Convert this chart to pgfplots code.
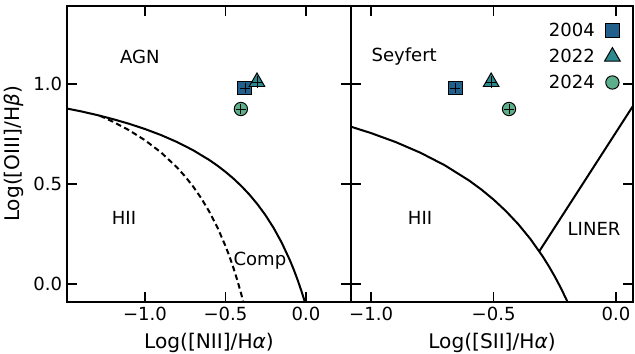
\documentclass[border=0pt]{standalone}
\usepackage{fontspec}
\setmainfont{DejaVu Sans}
\usepackage{pgfplots}
\pgfplotsset{compat=1.18}
\definecolor{c04}{HTML}{21608C}
\definecolor{c22}{HTML}{2A8A8E}
\definecolor{c24}{HTML}{5DAF8C}
\pgfplotsset{bpt/.style={
  scale only axis, height=213.12pt, anchor=south west,
  tick align=inside, xtick pos=both, ytick pos=both,
  major tick length=7.5pt,
  every tick/.style={black, line width=1pt},
  axis line style={line width=1.1pt},
  ymin=-0.09, ymax=1.39, ytick={0,0.5,1},
  xtick={-1,-0.5,0}, xticklabels={−1.0,−0.5,0.0},
  tick label style={font=\fontsize{13}{15}\selectfont},
  label style={font=\fontsize{14.5}{17}\selectfont},
  xlabel style={yshift=-2.5pt},
  every axis plot/.append style={line width=1.45pt},
  unbounded coords=jump,
  clip marker paths=true,
},
errb/.style={black, no marks, line width=0.55pt, solid, forget plot},
ptsq/.style={only marks, mark=square*, mark size=5pt, mark options={fill=c04, draw=black, line width=0.7pt, solid}},
pttr/.style={only marks, mark=triangle*, mark size=6.5pt, mark options={fill=c22, draw=black, line width=0.7pt, solid}},
ptci/.style={only marks, mark=*, mark size=4.8pt, mark options={fill=c24, draw=black, line width=0.7pt, solid}},
}
\begin{document}
\begin{tikzpicture}
\useasboundingbox (0,0) rectangle (457.2pt,254.16pt);
% ---------------- left panel: [NII]
\begin{axis}[bpt, at={(48.24pt,36.72pt)}, width=204.48pt,
  xmin=-1.484, xmax=0.28,
  yticklabels={0.0,0.5,1.0},
  xlabel={Log([NII]/H\textit{α})},
  ylabel={Log([OIII]/H\textit{β})}]
% Kewley 2001
\addplot[black, no marks] coordinates {
(-1.484,0.8772)(-1.4,0.8638)(-1.3,0.8454)(-1.2,0.8247)(-1.1,0.8015)(-1.0,0.7750)
(-0.9,0.7447)(-0.8,0.7097)(-0.7,0.6686)(-0.6,0.6199)(-0.55,0.5920)(-0.5,0.5611)
(-0.45,0.5270)(-0.4,0.4889)(-0.35,0.4461)(-0.3,0.3978)(-0.25,0.3428)(-0.2,0.2796)
(-0.15,0.2061)(-0.1,0.1198)(-0.075,0.0707)(-0.05,0.0169)(-0.025,-0.0423)(-0.0066,-0.0899)};
% Kauffmann 2003
\addplot[black, no marks, dash pattern=on 4pt off 2.5pt] coordinates {
(-1.28,0.8414)(-1.2,0.812)(-1.1,0.7696)(-1.0,0.7190)(-0.9,0.6579)(-0.8,0.5824)
(-0.75,0.5375)(-0.7,0.4867)(-0.65,0.4286)(-0.6,0.3615)(-0.55,0.2833)(-0.5,0.1909)
(-0.475,0.1381)(-0.45,0.08)(-0.425,0.0158)(-0.4,-0.0556)(-0.3888,-0.0902)};
\addplot[ptsq] coordinates {(-0.379,0.98)};
\addplot[errb] coordinates {(-0.411,0.98)(-0.347,0.98)(nan,nan)(-0.379,0.954)(-0.379,1.006)};
\addplot[pttr] coordinates {(-0.304,1.01)};
\addplot[errb] coordinates {(-0.336,1.01)(-0.272,1.01)(nan,nan)(-0.304,0.978)(-0.304,1.042)};
\addplot[ptci] coordinates {(-0.404,0.875)};
\addplot[errb] coordinates {(-0.436,0.875)(-0.372,0.875)(nan,nan)(-0.404,0.849)(-0.404,0.901)};
\node[font=\fontsize{13}{15}\selectfont] at (axis cs:-1.031,1.135) {AGN};
\node[font=\fontsize{13}{15}\selectfont] at (axis cs:-1.13,0.33) {HII};
\node[font=\fontsize{13}{15}\selectfont] at (axis cs:-0.286,0.115) {Comp};
\end{axis}
% ---------------- right panel: [SII]
\begin{axis}[bpt, at={(252.72pt,36.72pt)}, width=203.04pt,
  xmin=-1.082, xmax=0.069,
  yticklabels={},
  xlabel={Log([SII]/H\textit{α})},
  legend style={at={(1,1)}, anchor=north east, draw=none, fill=none,
    font=\fontsize{13}{15}\selectfont, row sep=3.5pt, column sep=5pt, xshift=-6pt, yshift=-8pt},
  legend plot pos=right, legend cell align=right]
\addplot[black, no marks, forget plot] coordinates {
(-1.082,0.7864)(-1.0,0.7545)(-0.9,0.7098)(-0.8,0.6571)(-0.7,0.5941)(-0.6,0.5174)
(-0.55,0.4724)(-0.5,0.4220)(-0.45,0.3649)(-0.4,0.3)(-0.35,0.2254)(-0.3,0.1387)
(-0.275,0.0899)(-0.25,0.0368)(-0.225,-0.0211)(-0.198,-0.09)};
\addplot[black, no marks, forget plot] coordinates {(-0.3135,0.1635)(0.069,0.8904)};
\addplot[ptsq] coordinates {(-0.657,0.98)};
\addlegendentry{2004}
\addplot[errb] coordinates {(-0.678,0.98)(-0.636,0.98)(nan,nan)(-0.657,0.954)(-0.657,1.006)};
\addplot[pttr] coordinates {(-0.51,1.01)};
\addlegendentry{2022}
\addplot[errb] coordinates {(-0.531,1.01)(-0.489,1.01)(nan,nan)(-0.51,0.978)(-0.51,1.042)};
\addplot[ptci] coordinates {(-0.437,0.875)};
\addlegendentry{2024}
\addplot[errb] coordinates {(-0.458,0.875)(-0.416,0.875)(nan,nan)(-0.437,0.849)(-0.437,0.901)};
\node[font=\fontsize{13}{15}\selectfont] at (axis cs:-0.865,1.135) {Seyfert};
\node[font=\fontsize{13}{15}\selectfont] at (axis cs:-0.8,0.33) {HII};
\node[font=\fontsize{13}{15}\selectfont] at (axis cs:-0.09,0.275) {LINER};
\end{axis}
\end{tikzpicture}
\end{document}
